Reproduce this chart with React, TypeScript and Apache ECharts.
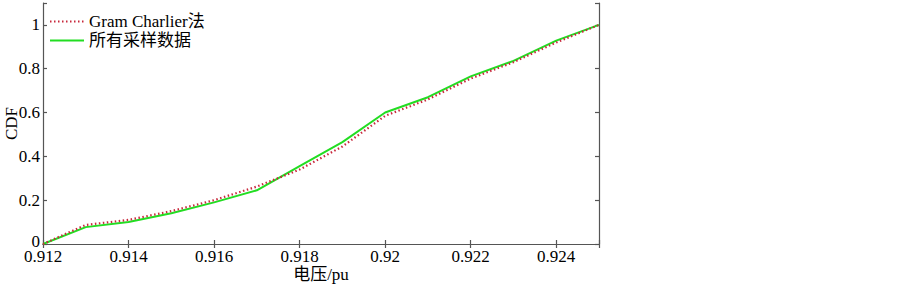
import React, { useEffect, useRef } from "react";
import * as echarts from "echarts";

const voltage = [0.912, 0.913, 0.914, 0.915, 0.916, 0.917, 0.918, 0.919, 0.92, 0.921, 0.922, 0.923, 0.924, 0.925];
const gramCharlier = [0, 0.087, 0.11, 0.15, 0.2, 0.262, 0.34, 0.445, 0.585, 0.66, 0.755, 0.83, 0.92, 1.0];
const sampled = [0, 0.077, 0.1, 0.14, 0.19, 0.245, 0.355, 0.465, 0.6, 0.67, 0.765, 0.836, 0.928, 1.0];
const seriesNames = ["Gram Charlier法", "所有采样数据"];

const FONT = '"Liberation Serif", "Noto Sans CJK SC", serif';

export default function App() {
  const ref = useRef<HTMLDivElement>(null);
  useEffect(() => {
    document.body.style.margin = "0";
    const chart = echarts.init(ref.current!, undefined, { renderer: "svg" });
    const axisLine = { show: true, lineStyle: { color: "#555", width: 1.2 } };
    const tick = { show: true, inside: true, length: 4, lineStyle: { color: "#555", width: 1.2 } };
    chart.setOption({
      animation: false,
      backgroundColor: "#fff",
      textStyle: { fontFamily: FONT },
      grid: { left: 43, top: 3, width: 556, height: 241, containLabel: false, outerBoundsMode: "none" },
      legend: {
        data: seriesNames,
        orient: "vertical",
        left: 44,
        top: 8,
        itemWidth: 34,
        itemHeight: 12,
        itemGap: 2,
        itemStyle: { opacity: 0 },
        textStyle: { fontFamily: FONT, fontSize: 17, color: "#000" },
      },
      xAxis: [
        {
          type: "value",
          min: 0.912,
          max: 0.925,
          interval: 0.002,
          name: "电压/pu",
          nameLocation: "middle",
          nameGap: 22,
          nameMoveOverlap: false,
          nameTextStyle: { fontFamily: FONT, fontSize: 17, color: "#000", verticalAlign: "top" },
          axisLine,
          axisTick: tick,
          splitLine: { show: false },
          axisLabel: {
            fontFamily: FONT,
            fontSize: 17,
            lineHeight: 12,
            color: "#000",
            margin: 6,
            hideOverlap: false,
            formatter: (v: number) => (v > 0.9245 ? "" : String(+v.toFixed(3))),
          },
        },
        {
          type: "value",
          position: "top",
          min: 0.912,
          max: 0.925,
          interval: 0.002,
          axisLine,
          axisTick: tick,
          axisLabel: { show: false },
          splitLine: { show: false },
        },
      ],
      yAxis: [
        {
          type: "value",
          min: 0,
          max: 1.1,
          interval: 0.2,
          name: "CDF",
          nameLocation: "middle",
          nameRotate: 90,
          nameGap: 23,
          nameMoveOverlap: false,
          nameTextStyle: { fontFamily: FONT, fontSize: 17, color: "#000" },
          axisLine,
          axisTick: tick,
          splitLine: { show: false },
          axisLabel: {
            fontFamily: FONT,
            fontSize: 17,
            lineHeight: 12,
            color: "#000",
            margin: 3,
            hideOverlap: false,
            formatter: (v: number) =>
              v > 1.01 ? "" : v === 0 ? "{z|0}" : String(+v.toFixed(1)),
            rich: {
              z: { fontFamily: FONT, fontSize: 17, lineHeight: 12, color: "#000", padding: [0, 0, 6, 0] },
            },
          },
        },
        {
          type: "value",
          position: "right",
          min: 0,
          max: 1.1,
          interval: 0.2,
          axisLine,
          axisTick: tick,
          axisLabel: { show: false },
          splitLine: { show: false },
        },
      ],
      series: [
        {
          name: seriesNames[1],
          type: "line",
          data: voltage.map((x, i) => [x, sampled[i]]),
          symbol: "none",
          lineStyle: { color: "#22dd22", width: 2 },
          itemStyle: { color: "#22dd22" },
          z: 2,
        },
        {
          name: seriesNames[0],
          type: "line",
          data: voltage.map((x, i) => [x, gramCharlier[i]]),
          symbol: "none",
          lineStyle: { color: "#c8283c", width: 2.2, type: [1.5, 2.5] },
          itemStyle: { color: "#c8283c" },
          z: 3,
        },
      ],
    });
    return () => chart.dispose();
  }, []);
  return <div ref={ref} style={{ width: 903, height: 285 }} />;
}
